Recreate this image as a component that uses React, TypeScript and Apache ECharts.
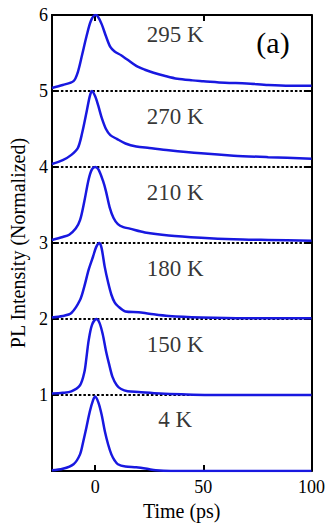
import React, { useEffect, useRef } from "react";
import * as echarts from "echarts";

// Time axis (ps) and normalized PL intensity for each temperature
const t295 = [-20, -15, -10, -8, -6, -4, -2, 0, 1, 3, 5, 7, 9, 12, 15, 19, 23, 27, 32, 38, 45, 50, 60, 70, 80, 90, 100];
const v295 = [0.04, 0.08, 0.13, 0.25, 0.48, 0.72, 0.92, 1.0, 0.99, 0.88, 0.72, 0.58, 0.52, 0.47, 0.41, 0.33, 0.28, 0.24, 0.2, 0.16, 0.14, 0.13, 0.11, 0.1, 0.08, 0.07, 0.07];

const t270 = [-20, -15, -11, -8, -6, -4, -2.5, -1.5, 0, 1.5, 3, 5, 7, 10, 14, 19, 25, 34, 49, 64, 80, 100];
const v270 = [0.04, 0.09, 0.16, 0.25, 0.45, 0.72, 0.93, 1.0, 0.93, 0.8, 0.65, 0.5, 0.42, 0.37, 0.31, 0.27, 0.25, 0.22, 0.18, 0.15, 0.13, 0.11];

const t210 = [-20, -15, -12, -9, -7, -5, -3, -1.5, 0, 1.5, 3.6, 5, 6.7, 8.5, 10.5, 13, 16, 23, 34, 49, 64, 80, 100];
const v210 = [0.04, 0.08, 0.11, 0.19, 0.3, 0.55, 0.84, 0.97, 1.0, 0.97, 0.82, 0.68, 0.47, 0.33, 0.25, 0.21, 0.19, 0.14, 0.1, 0.07, 0.05, 0.04, 0.03];

const t180 = [-20, -15, -11, -7, -5, -3, -1, 0.5, 2, 3, 4.4, 6, 7.5, 9, 10.5, 14, 20, 25, 34, 49, 70, 100];
const v180 = [0.02, 0.04, 0.08, 0.25, 0.43, 0.65, 0.82, 0.95, 1.0, 0.93, 0.69, 0.48, 0.32, 0.22, 0.17, 0.1, 0.09, 0.07, 0.04, 0.02, 0.01, 0.01];

const t150 = [-20, -15, -11, -7, -5, -4, -3, -1.5, 0.5, 2, 3.5, 5, 6.5, 8, 10, 12, 15, 20, 30, 40, 60, 100];
const v150 = [0.02, 0.03, 0.05, 0.13, 0.3, 0.5, 0.72, 0.92, 1.0, 0.95, 0.8, 0.58, 0.4, 0.24, 0.13, 0.08, 0.05, 0.04, 0.02, 0.01, 0, 0];

const t4 = [-20, -15, -10, -7, -5.5, -4, -2.5, -1, 0, 1.5, 3, 4.5, 6, 7.5, 9, 10.5, 14, 19, 24, 28, 35, 100];
const v4 = [0.01, 0.03, 0.09, 0.22, 0.39, 0.58, 0.78, 0.93, 0.98, 0.9, 0.74, 0.52, 0.35, 0.22, 0.14, 0.09, 0.06, 0.05, 0.03, 0.01, 0, 0];

// Vertical offsets (stacking) and labels
const temperatures = ["295 K", "270 K", "210 K", "180 K", "150 K", "4 K"];
const offsets = [5, 4, 3, 2, 1, 0];
const labelTime = [37, 37, 37, 37, 37, 37];
const labelValues = [5.75, 4.67, 3.67, 2.66, 1.66, 0.68];

const xTicks = [0, 50, 100];
const topTicks = [0, 50];

const FONT = "Liberation Serif";
const TEXT = "#000";

export default function App() {
  const ref = useRef<HTMLDivElement>(null);
  useEffect(() => {
    if (!ref.current) return;
    const chart = echarts.init(ref.current, null, { renderer: "svg" });
    const curves = [
      [t295, v295],
      [t270, v270],
      [t210, v210],
      [t180, v180],
      [t150, v150],
      [t4, v4],
    ];
    const lineSeries = curves.map(([ts, vs], i) => ({
      type: "line",
      name: temperatures[i],
      data: ts.map((t, j) => [t, vs[j] + offsets[i]]),
      showSymbol: false,
      smooth: 0.3,
      lineStyle: { color: "#1818e0", width: 2.5 },
      z: 3,
    }));
    const axisLine = { onZero: false, lineStyle: { color: "#000", width: 2 } };
    chart.setOption({
      animation: false,
      grid: { left: 49, right: 16, top: 15, bottom: 49 },
      xAxis: [
        {
          type: "value",
          min: -20,
          max: 100,
          position: "bottom",
          axisLine,
          axisTick: { inside: true, length: 6, customValues: xTicks, lineStyle: { color: "#000", width: 2 } },
          axisLabel: { customValues: xTicks, fontFamily: FONT, fontSize: 18, color: TEXT, margin: 7 },
          splitLine: { show: false },
          name: "Time (ps)",
          nameLocation: "middle",
          nameGap: 27,
          nameTextStyle: { fontFamily: FONT, fontSize: 20, color: TEXT, verticalAlign: "top" },
        },
        {
          type: "value",
          min: -20,
          max: 100,
          position: "top",
          axisLine,
          axisTick: { inside: true, length: 6, customValues: topTicks, lineStyle: { color: "#000", width: 2 } },
          axisLabel: { show: false },
          splitLine: { show: false },
        },
      ],
      yAxis: [
        {
          type: "value",
          min: 0,
          max: 6,
          interval: 1,
          position: "left",
          axisLine,
          axisTick: { inside: true, length: 6, lineStyle: { color: "#000", width: 2 } },
          axisLabel: {
            fontFamily: FONT,
            fontSize: 18,
            color: TEXT,
            margin: 4,
            formatter: (v: number) => (v === 0 ? "" : String(v)),
          },
          splitLine: { show: true, lineStyle: { color: "#000", width: 2, type: [2.5, 2] } },
          name: "PL Intensity (Normalized)",
          nameLocation: "middle",
          nameGap: 22,
          nameRotate: 90,
          nameTextStyle: { fontFamily: FONT, fontSize: 20, color: TEXT },
        },
        {
          type: "value",
          min: 0,
          max: 6,
          interval: 1,
          position: "right",
          axisLine,
          axisTick: { inside: true, length: 6, lineStyle: { color: "#000", width: 2 } },
          axisLabel: { show: false },
          splitLine: { show: false },
        },
      ],
      graphic: [
        {
          type: "text",
          x: 273,
          y: 42,
          style: {
            text: "(a)",
            fontFamily: FONT,
            fontSize: 30,
            fill: TEXT,
            align: "center",
            verticalAlign: "middle",
          },
        },
      ],
      series: [
        ...lineSeries,
        {
          type: "scatter",
          data: temperatures.map((name, i) => [labelTime[i], labelValues[i], name]),
          symbolSize: 1,
          itemStyle: { color: "rgba(0,0,0,0)" },
          label: {
            show: true,
            position: "inside",
            formatter: (p: any) => p.data[2],
            fontFamily: FONT,
            fontSize: 23,
            color: TEXT,
          },
          z: 4,
        },
      ],
    });
    return () => chart.dispose();
  }, []);
  return (
    <div
      ref={ref}
      style={{ position: "fixed", left: 0, top: 0, width: 328, height: 526, background: "#fff" }}
    />
  );
}
